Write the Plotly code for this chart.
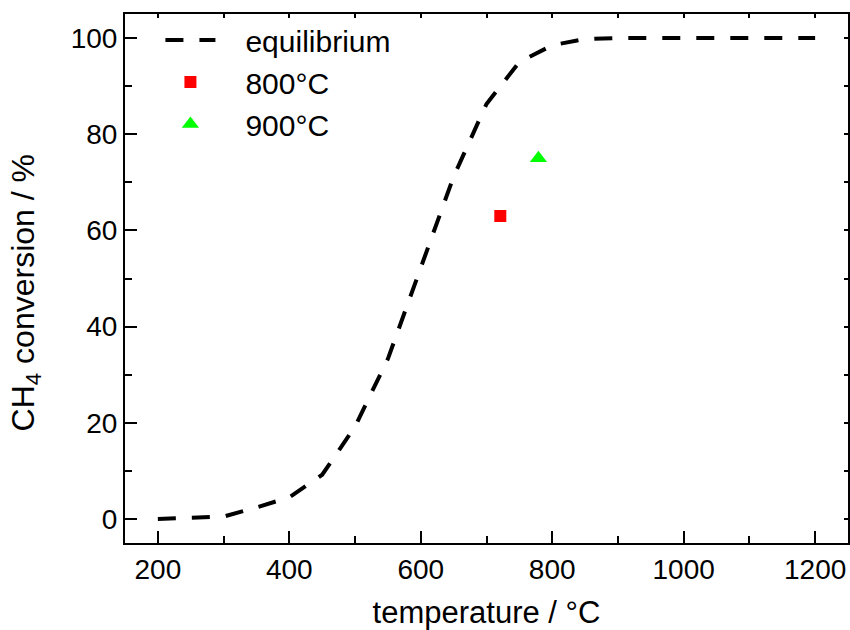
import plotly.graph_objects as go

# equilibrium CH4 conversion curve
temperature = [200, 250, 300, 350, 400, 450, 500, 550, 600, 650, 700, 750, 800, 850, 900,
               950, 1000, 1050, 1100, 1150, 1200]
conversion = [0.0, 0.2, 0.5, 2.4, 4.5, 9.2, 19.2, 33.3, 52.3, 71.2, 86.3, 95.0, 98.5, 99.8, 100.0,
              100.0, 100.0, 100.0, 100.0, 100.0, 100.0]

# measured points
t_800 = [721]
c_800 = [63]
t_900 = [779]
c_900 = [75]

FONT = "Liberation Sans, Arial, sans-serif"
PAD = "\u00a0\u00a0\u00a0"

fig = go.Figure()
fig.add_trace(go.Scatter(x=temperature, y=conversion, mode="lines", name=PAD + "equilibrium",
                         line=dict(color="black", width=4, dash="18px,16px")))
fig.add_trace(go.Scatter(x=t_800, y=c_800, mode="markers", name=PAD + "800°C",
                         marker=dict(symbol="square", size=12, color="#ff0000")))
fig.add_trace(go.Scatter(x=t_900, y=c_900, mode="markers", name=PAD + "900°C",
                         marker=dict(symbol="triangle-up", size=15, color="#00ff00")))
# empty trace to carry the mirrored top/right axes
fig.add_trace(go.Scatter(x=[], y=[], xaxis="x2", yaxis="y2", showlegend=False, hoverinfo="skip"))

fig.update_layout(
    width=850, height=630,
    margin=dict(l=125, r=2, t=14, b=87, autoexpand=False),
    paper_bgcolor="white", plot_bgcolor="white",
    font=dict(family=FONT, size=28, color="black"),
    showlegend=True,
    legend=dict(x=0.049, y=1.0, xanchor="left", yanchor="top", bgcolor="rgba(0,0,0,0)",
                font=dict(size=30), itemwidth=50, tracegroupgap=0),
    xaxis=dict(range=[150, 1250], showgrid=False, zeroline=False, showline=True,
               linecolor="black", linewidth=2, ticks="inside", ticklen=12, tickwidth=2,
               tickcolor="black", dtick=200, tick0=0, automargin=False,
               minor=dict(ticks="inside", ticklen=7, tickwidth=2, tickcolor="black", dtick=100),
               tickfont=dict(size=28),
               title=dict(text="temperature / °C", font=dict(size=31), standoff=26)),
    yaxis=dict(range=[-5, 105], showgrid=False, zeroline=False, showline=True,
               linecolor="black", linewidth=2, ticks="inside", ticklen=12, tickwidth=2,
               tickcolor="black", dtick=20, tick0=0, automargin=False,
               minor=dict(ticks="inside", ticklen=7, tickwidth=2, tickcolor="black", dtick=10),
               tickfont=dict(size=28)),
    xaxis2=dict(range=[150, 1250], overlaying="x", side="top", anchor="y", showgrid=False,
                zeroline=False, showline=True, linecolor="black", linewidth=2, automargin=False,
                ticks="inside", ticklen=4, tickwidth=2, tickcolor="black", dtick=100, tick0=0,
                showticklabels=False),
    yaxis2=dict(range=[-5, 105], overlaying="y", side="right", anchor="x", showgrid=False,
                zeroline=False, showline=True, linecolor="black", linewidth=2, automargin=False,
                ticks="inside", ticklen=4, tickwidth=2, tickcolor="black", dtick=10, tick0=0,
                showticklabels=False),
    annotations=[dict(text="CH<sub>4</sub> conversion / %", textangle=-90, showarrow=False,
                      xref="paper", yref="paper", x=-0.137, y=0.4735,
                      xanchor="center", yanchor="middle", font=dict(size=32))],
)

fig.write_html("out.html", config={"displayModeBar": False},
               post_script="document.body.style.margin='0';document.body.style.overflow='hidden';")
